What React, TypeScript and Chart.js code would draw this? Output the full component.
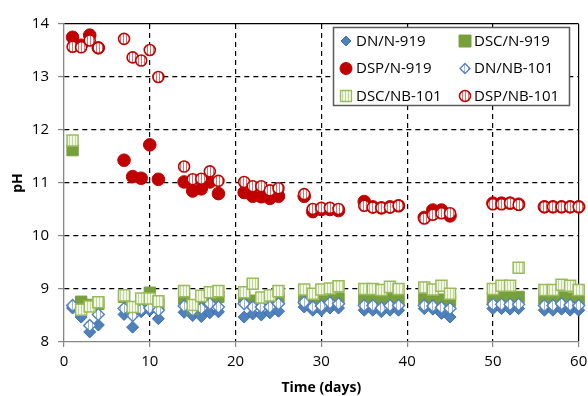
import React, { useEffect, useRef } from 'react';
import { Chart, registerables } from 'chart.js';

Chart.register(...registerables);

const days = [1, 2, 3, 4, 7, 8, 9, 10, 11, 14, 15, 16, 17, 18, 21, 22, 23, 24, 25, 28, 29, 30, 31, 32, 35, 36, 37, 38, 39, 42, 43, 44, 45, 50, 51, 52, 53, 56, 57, 58, 59, 60];

const dnN919 = [8.64, 8.47, 8.19, 8.32, 8.52, 8.28, 8.57, 8.6, 8.44, 8.56, 8.5, 8.48, 8.55, 8.57, 8.47, 8.53, 8.51, 8.55, 8.58, 8.66, 8.6, 8.6, 8.64, 8.64, 8.6, 8.6, 8.57, 8.6, 8.6, 8.63, 8.62, 8.54, 8.47, 8.63, 8.63, 8.62, 8.63, 8.6, 8.6, 8.62, 8.6, 8.6];
const dscN919 = [11.62, 8.76, 8.7, 8.72, 8.85, 8.62, 8.78, 8.93, 8.72, 8.82, 8.62, 8.78, 8.82, 8.85, 8.85, 8.78, 8.72, 8.78, 8.82, 8.82, 8.78, 8.8, 8.8, 8.82, 8.82, 8.8, 8.82, 8.82, 8.8, 8.82, 8.8, 8.8, 8.78, 8.83, 8.85, 8.85, 8.85, 8.82, 8.84, 8.84, 8.82, 8.8];
const dspN919 = [13.75, 13.6, 13.79, 13.55, 11.43, 11.12, 11.09, 11.72, 11.07, 11.02, 10.85, 10.89, 11.02, 10.8, 10.82, 10.75, 10.74, 10.71, 10.75, 10.75, 10.46, 10.5, 10.5, 10.48, 10.65, 10.55, 10.53, 10.55, 10.57, 10.35, 10.49, 10.49, 10.38, 10.62, 10.62, 10.62, 10.6, 10.55, 10.55, 10.55, 10.55, 10.55];
const dnNB101 = [8.69, 8.6, 8.31, 8.52, 8.63, 8.5, 8.62, 8.64, 8.6, 8.68, 8.6, 8.63, 8.72, 8.66, 8.72, 8.66, 8.66, 8.66, 8.72, 8.75, 8.66, 8.68, 8.74, 8.72, 8.69, 8.69, 8.64, 8.69, 8.69, 8.69, 8.68, 8.65, 8.63, 8.71, 8.71, 8.71, 8.71, 8.69, 8.69, 8.72, 8.7, 8.69];
const dscNB101 = [11.8, 8.61, 8.67, 8.75, 8.88, 8.66, 8.82, 8.82, 8.77, 8.96, 8.7, 8.87, 8.94, 8.96, 8.94, 9.1, 8.84, 8.88, 8.96, 8.99, 8.91, 8.99, 9.01, 9.05, 9.0, 9.0, 8.98, 9.04, 9.0, 9.03, 8.99, 9.06, 8.91, 9.0, 9.06, 9.06, 9.4, 8.98, 8.98, 9.08, 9.06, 8.98];
const dspNB101 = [13.57, 13.56, 13.69, 13.55, 13.72, 13.37, 13.31, 13.51, 13.0, 11.31, 11.07, 11.08, 11.22, 11.04, 11.02, 10.94, 10.94, 10.86, 10.9, 10.79, 10.51, 10.53, 10.53, 10.51, 10.57, 10.54, 10.53, 10.54, 10.57, 10.33, 10.4, 10.43, 10.43, 10.6, 10.6, 10.62, 10.59, 10.55, 10.55, 10.55, 10.55, 10.55];

const seriesNames = ['DN/N-919', 'DSC/N-919', 'DSP/N-919', 'DN/NB-101', 'DSC/NB-101', 'DSP/NB-101'];
const xTicks = [0, 10, 20, 30, 40, 50, 60];
const yTicks = [8, 9, 10, 11, 12, 13, 14];
const xTitle = 'Time (days)';
const yTitle = 'pH';

const FONT = '"Open Sans"';
const BLUE = '#4f81bd';
const BLUE_D = '#3d6ea8';
const GREEN = '#77a03c';
const GREEN_L = '#9bbb59';
const RED = '#c00000';

function makePattern(ctx: CanvasRenderingContext2D, w: number, h: number, bg: string, fg: string, stripe: number) {
  const t = document.createElement('canvas');
  t.width = w;
  t.height = h;
  const c = t.getContext('2d')!;
  c.fillStyle = bg;
  c.fillRect(0, 0, w, h);
  c.fillStyle = fg;
  c.fillRect(0, 0, stripe, h);
  return ctx.createPattern(t, 'repeat')!;
}

type MarkerStyle = { shape: string; r: number; fill: any; stroke: string; lw: number };

function drawMarker(ctx: CanvasRenderingContext2D, m: MarkerStyle, x: number, y: number) {
  ctx.save();
  ctx.beginPath();
  if (m.shape === 'circle') {
    ctx.arc(x, y, m.r, 0, Math.PI * 2);
  } else if (m.shape === 'rect') {
    ctx.rect(x - m.r, y - m.r, m.r * 2, m.r * 2);
  } else {
    ctx.moveTo(x, y - m.r);
    ctx.lineTo(x + m.r, y);
    ctx.lineTo(x, y + m.r);
    ctx.lineTo(x - m.r, y);
    ctx.closePath();
  }
  ctx.fillStyle = m.fill;
  ctx.fill();
  ctx.lineWidth = m.lw;
  ctx.strokeStyle = m.stroke;
  ctx.stroke();
  ctx.restore();
}

export default function App() {
  const ref = useRef<HTMLCanvasElement>(null);

  useEffect(() => {
    const canvas = ref.current!;
    const ctx = canvas.getContext('2d')!;
    const redPat = makePattern(ctx, 3, 2, '#ffffff', '#e07070', 1);
    const greenPat = makePattern(ctx, 3, 2, '#f3f7ea', '#c2d69a', 1);
    const bluePat = makePattern(ctx, 4, 2, '#ffffff', '#9db8dc', 1);

    const legendMarkers: MarkerStyle[] = [
      { shape: 'diamond', r: 5, fill: BLUE, stroke: BLUE_D, lw: 1 },
      { shape: 'rect', r: 6, fill: GREEN, stroke: GREEN, lw: 1 },
      { shape: 'circle', r: 6, fill: RED, stroke: RED, lw: 1 },
      { shape: 'diamond', r: 5, fill: bluePat, stroke: BLUE, lw: 1.3 },
      { shape: 'rect', r: 5.5, fill: greenPat, stroke: GREEN_L, lw: 1.3 },
      { shape: 'circle', r: 5.5, fill: redPat, stroke: RED, lw: 1.5 },
    ];

    const legendPlugin = {
      id: 'boxLegend',
      afterDraw(chart: any) {
        const c = chart.ctx as CanvasRenderingContext2D;
        const bx = 333.5, by = 27.5, bw = 236, bh = 78;
        c.save();
        c.fillStyle = '#ffffff';
        c.fillRect(bx, by, bw, bh);
        c.strokeStyle = '#5a5a5a';
        c.lineWidth = 1.5;
        c.strokeRect(bx, by, bw, bh);
        c.font = `15px ${FONT}`;
        c.fillStyle = '#000';
        c.textBaseline = 'middle';
        c.textAlign = 'left';
        const rows = [13.5, 41, 68.5];
        const cols = [{ m: 12.5, t: 22.5 }, { m: 131.5, t: 140.5 }];
        seriesNames.forEach((name, i) => {
          const row = Math.floor(i / 2);
          const col = cols[i % 2];
          const y = by + rows[row];
          drawMarker(c, legendMarkers[i], bx + col.m, y);
          c.fillText(name, bx + col.t, y + 0.5);
        });
        c.restore();
      },
    };

    const mk = (vals: number[]) => days.map((d, i) => ({ x: d, y: vals[i] }));
    const transparent = 'rgba(0,0,0,0)';

    const chart = new Chart(canvas, {
      type: 'scatter',
      data: {
        datasets: [
          { label: seriesNames[0], data: mk(dnN919), pointStyle: 'rectRot', pointRadius: 6, backgroundColor: BLUE, borderColor: BLUE_D, borderWidth: 1, order: 6, clip: false },
          { label: seriesNames[1], data: mk(dscN919), pointStyle: 'rect', pointRadius: 8, backgroundColor: GREEN, borderColor: GREEN, borderWidth: 1, order: 5, clip: false },
          { label: seriesNames[2], data: mk(dspN919), pointStyle: 'circle', pointRadius: 6.3, backgroundColor: RED, borderColor: RED, borderWidth: 1, order: 4, clip: false },
          { label: seriesNames[3], data: mk(dnNB101), pointStyle: 'rectRot', pointRadius: 6, backgroundColor: bluePat, borderColor: BLUE, borderWidth: 1.4, order: 3, clip: false },
          { label: seriesNames[4], data: mk(dscNB101), pointStyle: 'rect', pointRadius: 7.8, backgroundColor: greenPat, borderColor: GREEN_L, borderWidth: 1.5, order: 2, clip: false },
          { label: seriesNames[5], data: mk(dspNB101), pointStyle: 'circle', pointRadius: 5.5, backgroundColor: redPat, borderColor: RED, borderWidth: 1.6, order: 1, clip: false },
        ] as any,
      },
      options: {
        animation: false,
        responsive: false,
        maintainAspectRatio: false,
        devicePixelRatio: 1,
        layout: { padding: { top: 24, right: 8, left: 0, bottom: 0 } },
        plugins: { legend: { display: false }, tooltip: { enabled: false } },
        elements: { point: { hoverRadius: 6 } },
        scales: {
          x: {
            type: 'linear',
            min: 0,
            max: 60,
            afterBuildTicks: (s: any) => { s.ticks = xTicks.map((v) => ({ value: v })); },
            ticks: { font: { family: FONT, size: 15 }, color: '#000', padding: 6 },
            grid: {
              color: (c: any) => (c.tick && c.tick.value === 0 ? transparent : '#000'),
              lineWidth: 1.2,
              tickColor: '#868686',
              tickLength: 5,
            },
            border: { display: true, color: '#868686', width: 1.3, dash: (c: any) => (c.tick && c.tick.value === 60 ? [] : [5, 4]) },
            title: { display: true, text: xTitle, font: { family: FONT, size: 14, weight: 'bold' }, color: '#000', padding: 0 },
            afterFit: (s: any) => { s.height = 54; s.paddingRight = 0; s.paddingLeft = 0; },
          },
          y: {
            type: 'linear',
            min: 8,
            max: 14,
            afterBuildTicks: (s: any) => { s.ticks = yTicks.map((v) => ({ value: v })); },
            ticks: { font: { family: FONT, size: 15 }, color: '#000', padding: 9 },
            grid: {
              color: (c: any) => (c.tick && c.tick.value === 8 ? transparent : '#000'),
              lineWidth: 1.2,
              tickColor: '#868686',
              tickLength: 6,
            },
            border: { display: true, color: '#868686', width: 1.3, dash: (c: any) => (c.tick && c.tick.value === 14 ? [] : [5, 4]) },
            title: { display: true, text: yTitle, font: { family: FONT, size: 14, weight: 'bold' }, color: '#000', padding: { top: 10, bottom: 0 } },
            afterFit: (s: any) => { s.width = 64; },
          },
        },
      } as any,
      plugins: [legendPlugin],
    });
    return () => chart.destroy();
  }, []);

  return (
    <div style={{ position: 'absolute', left: 0, top: 0, width: 588, height: 396, background: '#fff' }}>
      <canvas ref={ref} width={588} height={396} style={{ display: 'block', width: 588, height: 396 }} />
    </div>
  );
}
